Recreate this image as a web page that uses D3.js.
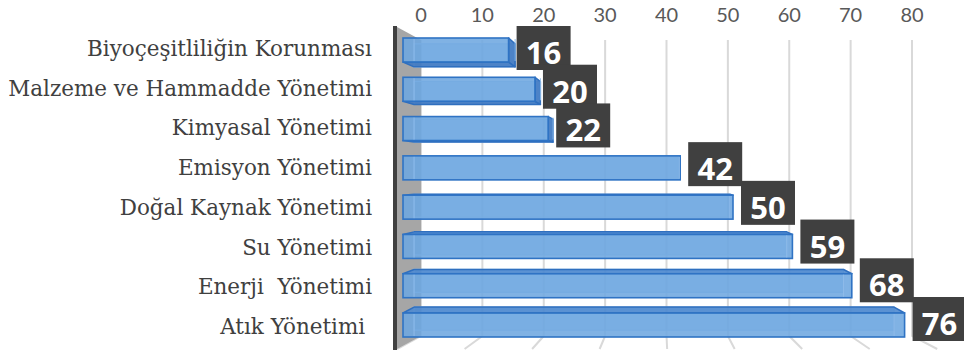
<!DOCTYPE html>
<html><head><meta charset="utf-8">
<script src="https://cdn.jsdelivr.net/npm/d3@7"></script>
<style>html,body{margin:0;padding:0;background:#fff;}svg{display:block;}</style>
</head><body>
<svg id="chart" width="964" height="353"></svg>
<script>
const categories = ["Biyoçeşitliliğin Korunması","Malzeme ve Hammadde Yönetimi","Kimyasal Yönetimi","Emisyon Yönetimi","Doğal Kaynak Yönetimi","Su Yönetimi","Enerji  Yönetimi","Atık Yönetimi "];
const values = [16,20,22,42,50,59,68,76];
const tickValues = [0,10,20,30,40,50,60,70,80];

const svg = d3.select("#chart");
const rows = d3.range(categories.length);

// scales
const xFront = d3.scaleLinear().domain([0,80]).range([403,931]);
const xBack = d3.scaleLinear().domain([0,80]).range([421,912]);
const yBar = d3.scaleLinear().domain([0,7]).range([38,313]);
const yLabel = d3.scaleLinear().domain([0,7]).range([50,328]);
const yBox = d3.scaleLinear().domain([0,7]).range([26,297]);
const barH = 24;
const VX = 660, VY = 175, K = 0.957;
const P = (x,y,k=K) => [VX+(x-VX)*k, VY+(y-VY)*k];

// gridlines (back wall + floor)
const wallTop = 40, wallBot = 336, floorFront = 349, KW = 0.909;
const g = svg.append("g");
tickValues.forEach(v => {
  const bx = xBack(v);
  const fx = VX + (bx - VX)/KW;
  g.append("path")
    .attr("d", `M${bx},${wallTop}L${bx},${wallBot}L${fx},${floorFront}`)
    .attr("fill","none").attr("stroke","#d9d9d9").attr("stroke-width",2);
});

// left wall
svg.append("path").attr("d","M397,27L421,40L421,336L397,349Z").attr("fill","#a6a6a6");
svg.append("line").attr("x1",395).attr("x2",395).attr("y1",26).attr("y2",350)
  .attr("stroke","#404040").attr("stroke-width",4);

// tick labels
svg.append("g").selectAll("text").data(tickValues).join("text")
  .attr("x", d => xBack(d)).attr("y", 22)
  .attr("text-anchor","middle")
  .attr("font-family","Lato, 'Open Sans', sans-serif").attr("font-size",20)
  .attr("fill","#595959").text(d => d);

// bars
const bars = svg.append("g");
rows.forEach(i => {
  const v = values[i];
  const x0 = xFront(0), x1 = xFront(v), y0 = yBar(i), y1 = yBar(i)+barH;
  const b00 = P(x0,y0), b10 = P(x1,y0), b01 = P(x0,y1), b11 = P(x1,y1);
  const bg = bars.append("g");
  bg.append("path").attr("d",`M${b00}L${b10}L${b11}L${b01}Z`)
    .attr("fill","#5d97d6").attr("fill-opacity",0.35).attr("stroke","#a9c9ec").attr("stroke-width",1.2);
  if (y0 > VY) {
    bg.append("path").attr("d",`M${x0},${y0}L${x1},${y0}L${b10}L${b00}Z`)
      .attr("fill","#4f89cf").attr("fill-opacity",0.9).attr("stroke","#2f6fbf").attr("stroke-width",1.5).attr("stroke-linejoin","round");
  }
  if (y1 < VY) {
    bg.append("path").attr("d",`M${x0},${y1}L${x1},${y1}L${b11}L${b01}Z`)
      .attr("fill","#3f79c2").attr("fill-opacity",0.9).attr("stroke","#2f6fbf").attr("stroke-width",1.5).attr("stroke-linejoin","round");
  }
  if (x1 < VX) {
    bg.append("path").attr("d",`M${x1},${y0}L${b10}L${b11}L${x1},${y1}Z`)
      .attr("fill","#3f79c2").attr("fill-opacity",0.9).attr("stroke","#2f6fbf").attr("stroke-width",1.5).attr("stroke-linejoin","round");
  }
  bg.append("rect").attr("x",x0).attr("y",y0).attr("width",x1-x0).attr("height",barH)
    .attr("fill","#6ea7e0").attr("fill-opacity",0.88).attr("stroke","#2f73c4").attr("stroke-width",1.6);
  bg.append("path").attr("d",`M${b00[0]},${y0+1}L${b00[0]},${y1-1}M${b10[0]},${y0+1}L${b10[0]},${y1-1}`)
    .attr("stroke","#8fbbe9").attr("stroke-width",1).attr("fill","none");
});

// category labels
const lab = svg.append("g").selectAll("text").data(rows).join("text")
  .attr("x",372).attr("y", i => yLabel(i)+6)
  .attr("text-anchor","end")
  .attr("font-family","'DejaVu Serif', serif").attr("font-size",18)
  .attr("fill","#404040").style("white-space","pre")
  .text(i => categories[i]);
const longest = d3.max(lab.nodes(), n => n.getComputedTextLength());
lab.attr("font-size", 18*364/longest);

// value boxes
const boxes = svg.append("g");
rows.forEach(i => {
  const bx = xFront(values[i]) + 8, by = yBox(i);
  boxes.append("rect").attr("x",bx).attr("y",by).attr("width",54).attr("height",44).attr("fill","#404040");
  boxes.append("text").attr("x",bx+27).attr("y",by+38).attr("text-anchor","middle")
    .attr("font-family","'Open Sans', sans-serif").attr("font-weight","bold").attr("font-size",31)
    .attr("fill","#fff").text(values[i]);
});
</script>
</body></html>
